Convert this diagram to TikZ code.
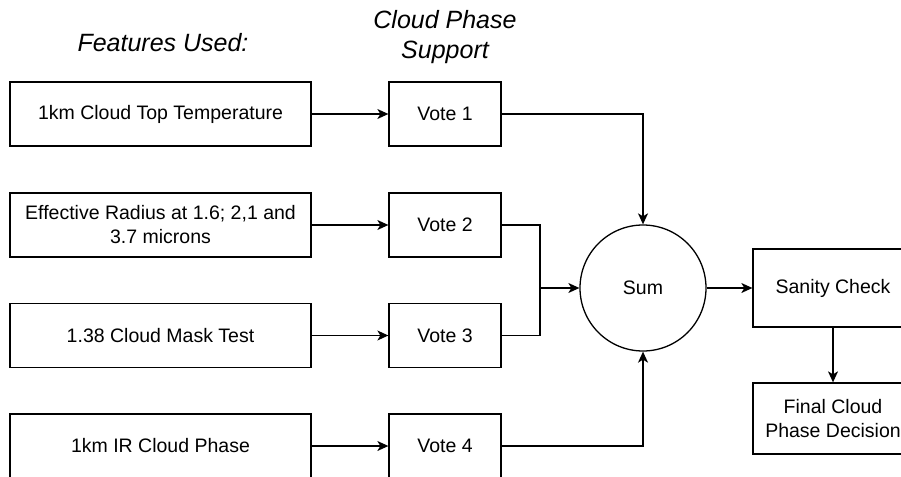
\documentclass[tikz,border=0pt]{standalone}
\usepackage{fontspec}
\setmainfont{Liberation Sans}
\usetikzlibrary{arrows.meta}

\begin{document}
\begin{tikzpicture}[x=1pt, y=-1pt, line width=1.3pt, font=\fontsize{19.5}{24}\selectfont,
        box/.style={draw, rectangle, minimum height=64pt, align=center, inner sep=0pt},
        feat/.style={box, minimum width=301pt},
        vote/.style={box, minimum width=112pt},
        title/.style={font=\fontsize{25}{30}\selectfont\itshape, align=center},
        >={Stealth[length=11pt, width=10pt, inset=3pt]}]
    \useasboundingbox (0,0) rectangle (901,476);
    \clip (0,0) rectangle (901,476);

    \node[title] (T1) at (163,43) {Features Used:};
    \node[title] (T2) at (445,37) {Cloud Phase\\Support};

    \node[feat] (F1) at (160.5,114) {1km Cloud Top Temperature};
    \node[feat] (F2) at (160.5,225) {Effective Radius at 1.6; 2,1 and\\3.7 microns};
    \node[feat] (F3) at (160.5,335.5) {1.38 Cloud Mask Test};
    \node[feat] (F4) at (160.5,446) {1km IR Cloud Phase};

    \node[vote] (V1) at (445,114) {Vote 1};
    \node[vote] (V2) at (445,225) {Vote 2};
    \node[vote] (V3) at (445,335.5) {Vote 3};
    \node[vote] (V4) at (445,446) {Vote 4};

    \node[draw, circle, minimum size=126pt, inner sep=0pt] (S) at (643,288) {Sum};
    \node[box, minimum width=160pt, minimum height=78pt] (C) at (833,288) {Sanity Check};
    \node[box, minimum width=160pt, minimum height=71pt] (D) at (833,418.5) {Final Cloud\\Phase Decision};
    \coordinate (J) at (540,288);

    \draw[->] (F1) -- (V1);
    \draw[->] (F2) -- (V2);
    \draw[->] (F3) -- (V3);
    \draw[->] (F4) -- (V4);

    \draw[->] (V1) -| (S.north);
    \draw (V2) -| (J);
    \draw (V3) -| (J);
    \draw[->] (J) -- (S);
    \draw[->] (V4) -| (S.south);

    \draw[->] (S) -- (C);
    \draw[->] (C) -- (D);
\end{tikzpicture}
\end{document}
